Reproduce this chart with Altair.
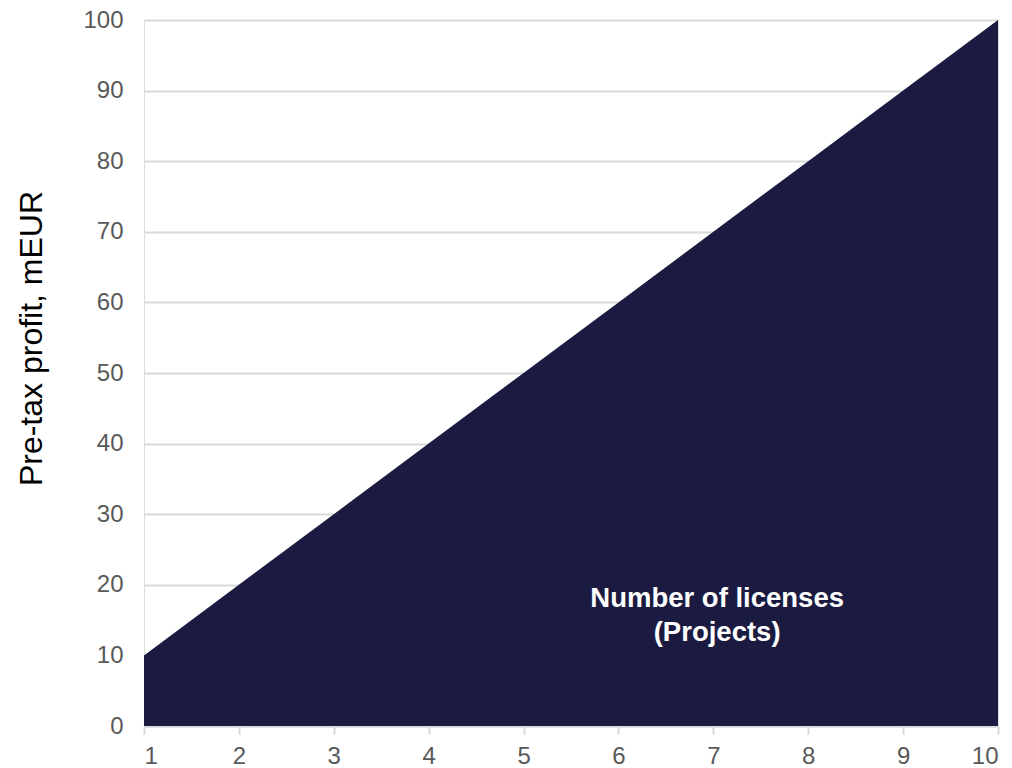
import altair as alt
import pandas as pd

licenses = [1, 2, 3, 4, 5, 6, 7, 8, 9, 10]
profit = [10, 20, 30, 40, 50, 60, 70, 80, 90, 100]
x_ticks = [1, 2, 3, 4, 5, 6, 7, 8, 9, 10]
y_ticks = [0, 10, 20, 30, 40, 50, 60, 70, 80, 90, 100]
annotation = ["Number of licenses", "(Projects)"]

df = pd.DataFrame({"licenses": licenses, "profit": profit})

FONT = "Liberation Sans"
FILL = "#1B1B41"
GRID = "#D9D9D9"
LABEL = "#595959"

xscale = alt.Scale(domain=[1, 10], nice=False, zero=False)
yscale = alt.Scale(domain=[0, 100], nice=False)

area = alt.Chart(df).mark_area(color=FILL, opacity=1).encode(
    x=alt.X("licenses:Q", scale=xscale,
            axis=alt.Axis(values=x_ticks, grid=False, title=None, format="d",
                          domainColor=GRID, domainWidth=2, tickColor=GRID,
                          tickWidth=2, tickSize=8, labelPadding=10,
                          labelFontSize=24, labelColor=LABEL, labelFont=FONT)),
    y=alt.Y("profit:Q", scale=yscale,
            axis=alt.Axis(values=y_ticks, grid=True, gridColor=GRID, gridWidth=2,
                          domain=False, ticks=False, tickSize=0, labelPadding=21,
                          labelFontSize=24, labelColor=LABEL, labelFont=FONT,
                          title="Pre-tax profit, mEUR", titleFont=FONT,
                          titleFontSize=32, titleFontWeight="normal",
                          titleColor="#000000", titleX=-113, titleY=318,
                          titleAlign="center", titleBaseline="middle",
                          titleAngle=270)),
)

text = alt.Chart(pd.DataFrame({"t": [annotation]})).mark_text(
    color="white", font=FONT, fontSize=27.5, fontWeight="bold",
    align="center", baseline="middle", lineHeight=34
).encode(
    x=alt.X(datum=7.04),
    y=alt.Y(datum=18.0),
    text="t:N",
)

chart = alt.layer(area, text).properties(
    width=854, height=706,
    autosize=alt.AutoSizeParams(type="none"),
    padding={"left": 136, "top": 12, "right": 6, "bottom": 42},
).configure_view(stroke=None).configure(background="white")

chart.save("out.html", embed_options={"renderer": "svg", "actions": False})
